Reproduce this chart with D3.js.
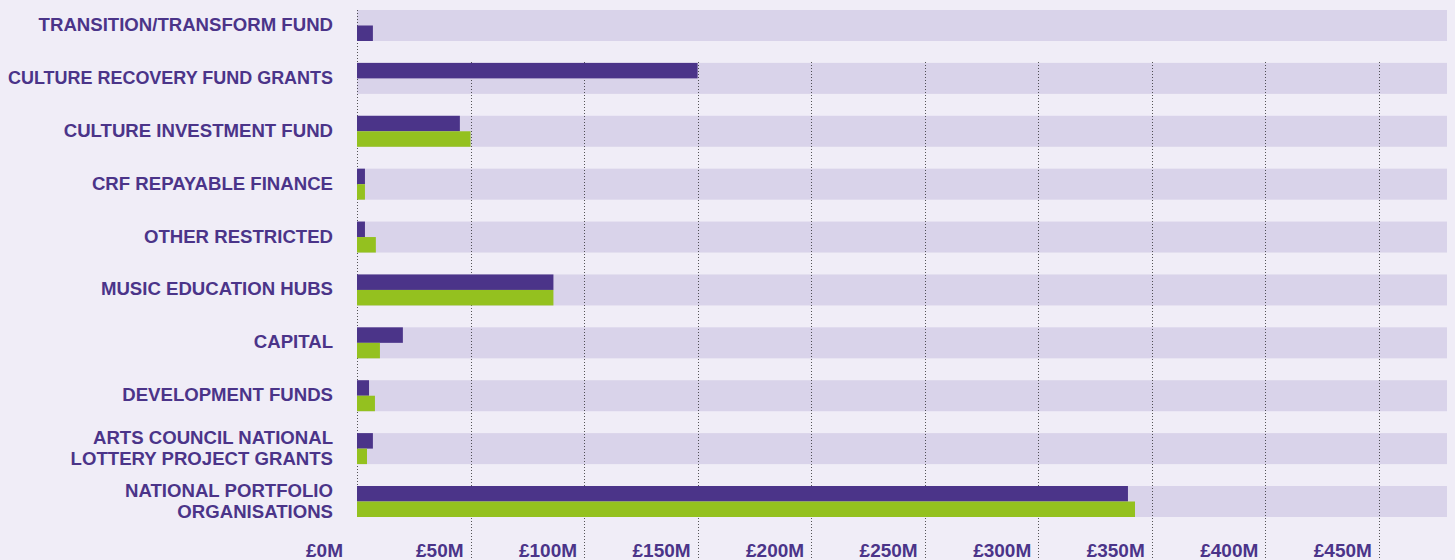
<!DOCTYPE html>
<html>
<head>
<meta charset="utf-8">
<script src="https://cdn.jsdelivr.net/npm/d3@7"></script>
<style>
  body { margin: 0; background: #f0edf7; }
  svg { display: block; font-family: "Liberation Sans", Arial, sans-serif; }
</style>
</head>
<body>
<script>
// ---------------- data ----------------
const categories = [
  ["TRANSITION/TRANSFORM FUND"],
  ["CULTURE RECOVERY FUND GRANTS"],
  ["CULTURE INVESTMENT FUND"],
  ["CRF REPAYABLE FINANCE"],
  ["OTHER RESTRICTED"],
  ["MUSIC EDUCATION HUBS"],
  ["CAPITAL"],
  ["DEVELOPMENT FUNDS"],
  ["ARTS COUNCIL NATIONAL", "LOTTERY PROJECT GRANTS"],
  ["NATIONAL PORTFOLIO", "ORGANISATIONS"]
];
// £M, top bar (purple)
const purpleValues = [null, 150, 45.3, 3.5, 3.5, 86.5, 20.2, 5.3, 7.0, 339.5];
// £M, lower bar (green)
const greenValues = [null, null, 50, 3.5, 8.3, 86.5, 10.1, 7.9, 4.4, 342.6];
// transition fund sits in the lower slot but is purple
const transitionValues = [7.0, null, null, null, null, null, null, null, null, null];
const tickValues = [0, 50, 100, 150, 200, 250, 300, 350, 400, 450];

// ---------------- setup ----------------
const width = 1455, height = 560;
const purple = "#4b3489", green = "#94c11f", band = "#d9d3ea";

const svg = d3.select("body").append("svg").attr("width", width).attr("height", height);

svg.append("rect").attr("width", width).attr("height", height).attr("fill", "#f0edf7");

const x = d3.scaleLinear().domain([0, 480]).range([357, 1447]);
const y = d3.scaleBand().domain(d3.range(categories.length)).range([10, 517]).paddingInner(0.414).paddingOuter(0);
const half = y.bandwidth() / 2;

// background bands
svg.selectAll("rect.band")
  .data(categories)
  .enter()
  .append("rect")
  .attr("class", "band")
  .attr("x", x(0))
  .attr("y", (d, i) => y(i))
  .attr("width", x(480) - x(0))
  .attr("height", y.bandwidth())
  .attr("fill", band);

// gridlines
svg.selectAll("line.grid")
  .data(tickValues)
  .enter()
  .append("line")
  .attr("class", "grid")
  .attr("x1", (d) => Math.round(x(d)) + 0.5)
  .attr("x2", (d) => Math.round(x(d)) + 0.5)
  .attr("y1", (d) => (d === 0 ? 10 : 62))
  .attr("y2", (d) => (d === 0 ? 517 : 560))
  .attr("stroke", "#222")
  .attr("stroke-width", 1)
  .attr("stroke-dasharray", "1,2")
  .attr("opacity", 0.75);

// bars
function drawBars(values, color, offset) {
  svg.append("g")
    .selectAll("rect")
    .data(values.map((v, i) => ({ v, i })).filter((d) => d.v != null))
    .enter()
    .append("rect")
    .attr("x", x(0))
    .attr("y", (d) => y(d.i) + offset)
    .attr("width", (d) => x(d.v) - x(0))
    .attr("height", half)
    .attr("fill", color);
}
drawBars(purpleValues, purple, 0);
drawBars(greenValues, green, half);
drawBars(transitionValues, purple, half);

// category labels
const labels = svg.append("g")
  .selectAll("text")
  .data(categories)
  .enter()
  .append("text")
  .attr("text-anchor", "end")
  .attr("fill", purple)
  .attr("font-weight", "bold")
  .attr("font-size", 18.6)
  .attr("y", (d, i) => y(i) + y.bandwidth() / 2 + (d.length === 1 ? 5.5 : -5));

labels.selectAll("tspan")
  .data((d) => d)
  .enter()
  .append("tspan")
  .attr("x", 333)
  .attr("dy", (d, i) => (i === 0 ? 0 : 21.5))
  .text((d) => d)
  .each(function () {
    // squeeze any line that would run off the left edge
    if (this.getComputedTextLength() > 325) {
      d3.select(this).attr("textLength", 325).attr("lengthAdjust", "spacingAndGlyphs");
    }
  });

// tick labels
svg.append("g")
  .selectAll("text")
  .data(tickValues)
  .enter()
  .append("text")
  .attr("text-anchor", "end")
  .attr("fill", purple)
  .attr("font-weight", "bold")
  .attr("font-size", 19)
  .attr("x", (d) => x(d) - (d === 0 ? 14 : 7))
  .attr("y", 557)
  .text((d) => "£" + d + "M");
</script>
</body>
</html>
